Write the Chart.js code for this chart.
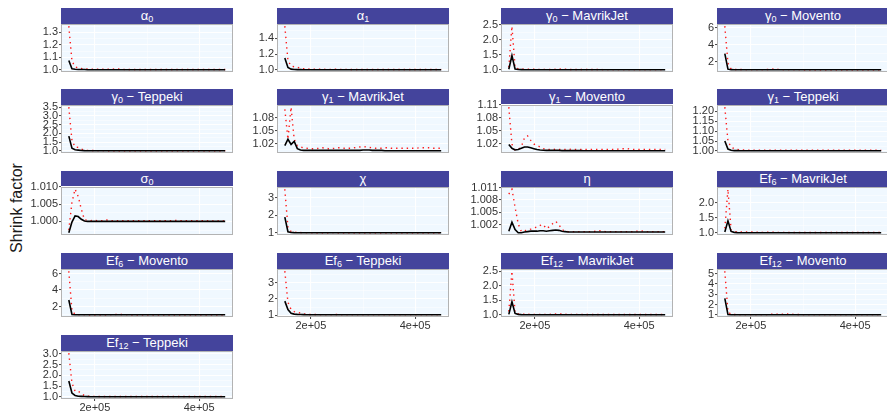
<!DOCTYPE html>
<html>
<head>
<meta charset="utf-8">
<script src="https://cdn.jsdelivr.net/npm/chart.js@4/dist/chart.umd.min.js"></script>
<style>
  html, body { margin: 0; padding: 0; background: #ffffff; }
  body { width: 887px; height: 411px; position: relative; overflow: hidden;
         font-family: "Liberation Sans", Arial, sans-serif; }
  canvas { position: absolute; }
  .strip { position: absolute; height: 16px; background: #44449c; color: #ffffff;
           font-size: 13px; line-height: 16px; text-align: center; white-space: nowrap; overflow: hidden; }
  .strip sub { font-size: 9px; line-height: 0; vertical-align: -2px; }
  #ytitle { position: absolute; width: 140px; height: 20px; line-height: 20px; text-align: center;
            font-size: 16px; color: #1a1a1a; transform: rotate(-90deg); }
</style>
</head>
<body>
<div id="ytitle">Shrink factor</div>
<script>
// Iterations at which the shrink factor was evaluated
const iterations = [
  150000,156000,162000,168000,174000,180000,186000,192000,198000,204000,
  210000,216000,222000,228000,234000,240000,246000,252000,258000,264000,
  270000,276000,282000,288000,294000,300000,306000,312000,318000,324000,
  330000,336000,342000,348000,354000,360000,366000,372000,378000,384000,
  390000,396000,402000,408000,414000,420000,426000,432000,438000,444000,
  450000];
const xTicks = [200000, 400000];
const xTickLabels = ['2e+05', '4e+05'];

// ---- alpha_0
const alpha0Median = [
  1.075,1.008,1.004,1.003,1.002,1.002,1.001,1.001,1.001,1.001,
  1.001,1.001,1.001,1.001,1.001,1.001,1.001,1.001,1.000,1.000,
  1.000,1.000,1.000,1.000,1.000,1.000,1.000,1.000,1.000,1.000,
  1.000,1.000,1.000,1.000,1.000,1.000,1.000,1.000,1.000,1.000,
  1.000,1.000,1.000,1.000,1.000,1.000,1.000,1.000,1.000,1.000,
  1.000];
const alpha0Upper = [
  1.350,1.070,1.025,1.015,1.010,1.008,1.006,1.006,1.005,1.005,
  1.004,1.004,1.004,1.004,1.005,1.008,1.006,1.004,1.003,1.003,
  1.003,1.003,1.003,1.002,1.002,1.002,1.002,1.002,1.002,1.002,
  1.002,1.002,1.002,1.002,1.002,1.002,1.002,1.002,1.002,1.002,
  1.002,1.002,1.002,1.002,1.002,1.002,1.002,1.002,1.002,1.002,
  1.002];
const alpha0Ticks = ['1.0','1.1','1.2','1.3'];

// ---- alpha_1
const alpha1Median = [
  1.150,1.030,1.010,1.005,1.004,1.003,1.002,1.002,1.002,1.002,
  1.001,1.001,1.001,1.001,1.001,1.001,1.001,1.001,1.001,1.001,
  1.001,1.001,1.001,1.001,1.001,1.001,1.001,1.001,1.001,1.001,
  1.001,1.001,1.001,1.001,1.001,1.001,1.001,1.001,1.001,1.001,
  1.001,1.001,1.001,1.001,1.001,1.001,1.001,1.001,1.001,1.001,
  1.001];
const alpha1Upper = [
  1.555,1.120,1.050,1.040,1.034,1.020,1.015,1.012,1.010,1.010,
  1.009,1.008,1.008,1.007,1.007,1.007,1.008,1.007,1.006,1.006,
  1.006,1.006,1.005,1.005,1.005,1.005,1.005,1.005,1.005,1.005,
  1.005,1.005,1.005,1.005,1.005,1.005,1.005,1.005,1.005,1.005,
  1.005,1.005,1.005,1.005,1.005,1.005,1.005,1.005,1.005,1.005,
  1.005];
const alpha1Ticks = ['1.0','1.2','1.4'];

// ---- gamma_0, MavrikJet
const gamma0MavMedian = [
  1.020,1.480,1.030,1.012,1.008,1.006,1.005,1.004,1.004,1.004,
  1.003,1.003,1.003,1.003,1.003,1.004,1.005,1.005,1.004,1.003,
  1.003,1.003,1.003,1.002,1.002,1.002,1.002,1.002,1.002,1.002,
  1.002,1.002,1.002,1.002,1.002,1.002,1.002,1.002,1.002,1.002,
  1.002,1.002,1.002,1.002,1.002,1.002,1.002,1.002,1.002,1.002,
  1.002];
const gamma0MavUpper = [
  1.090,2.460,1.080,1.040,1.030,1.025,1.022,1.020,1.020,1.018,
  1.018,1.016,1.015,1.015,1.016,1.020,1.025,1.030,1.022,1.016,
  1.014,1.013,1.012,1.012,1.012,1.011,1.011,1.011,1.011,1.011,
  1.010,1.010,1.010,1.010,1.010,1.010,1.010,1.010,1.010,1.010,
  1.010,1.010,1.010,1.010,1.010,1.010,1.010,1.010,1.010,1.010,
  1.010];
const gamma0MavTicks = ['1.0','1.5','2.0','2.5'];

// ---- gamma_0, Movento
const gamma0MovMedian = [
  2.930,1.080,1.020,1.010,1.008,1.006,1.005,1.004,1.004,1.004,
  1.004,1.003,1.003,1.003,1.004,1.006,1.006,1.005,1.004,1.003,
  1.003,1.003,1.003,1.003,1.003,1.003,1.003,1.003,1.003,1.003,
  1.002,1.002,1.002,1.002,1.002,1.002,1.002,1.002,1.002,1.002,
  1.002,1.002,1.002,1.002,1.002,1.002,1.002,1.002,1.002,1.002,
  1.002];
const gamma0MovUpper = [
  6.220,1.800,1.100,1.050,1.040,1.035,1.030,1.030,1.028,1.025,
  1.025,1.022,1.022,1.025,1.040,1.080,1.100,1.060,1.030,1.025,
  1.022,1.020,1.020,1.020,1.020,1.018,1.018,1.018,1.018,1.018,
  1.016,1.016,1.016,1.016,1.016,1.016,1.016,1.016,1.016,1.016,
  1.015,1.015,1.015,1.015,1.015,1.015,1.015,1.015,1.015,1.015,
  1.015];
const gamma0MovTicks = ['2','4','6'];

// ---- gamma_0, Teppeki
const gamma0TepMedian = [
  1.840,1.150,1.060,1.040,1.020,1.010,1.006,1.004,1.003,1.003,
  1.002,1.002,1.002,1.002,1.002,1.002,1.002,1.002,1.002,1.002,
  1.002,1.002,1.002,1.002,1.002,1.002,1.002,1.002,1.002,1.002,
  1.001,1.001,1.001,1.001,1.001,1.001,1.001,1.001,1.001,1.001,
  1.001,1.001,1.001,1.001,1.001,1.001,1.001,1.001,1.001,1.001,
  1.001];
const gamma0TepUpper = [
  3.500,1.600,1.220,1.200,1.100,1.040,1.025,1.018,1.015,1.012,
  1.010,1.010,1.009,1.009,1.009,1.008,1.008,1.008,1.008,1.008,
  1.008,1.007,1.007,1.007,1.007,1.007,1.007,1.007,1.007,1.007,
  1.006,1.006,1.006,1.006,1.006,1.006,1.006,1.006,1.006,1.006,
  1.006,1.006,1.006,1.006,1.006,1.006,1.006,1.006,1.006,1.006,
  1.006];
const gamma0TepTicks = ['1.0','1.5','2.0','2.5','3.0','3.5'];

// ---- gamma_1, MavrikJet
const gamma1MavMedian = [
  1.015,1.030,1.018,1.025,1.008,1.005,1.004,1.004,1.004,1.004,
  1.004,1.004,1.004,1.004,1.004,1.004,1.004,1.004,1.004,1.004,
  1.004,1.004,1.004,1.004,1.004,1.005,1.005,1.005,1.004,1.004,
  1.004,1.004,1.003,1.003,1.003,1.003,1.003,1.003,1.003,1.003,
  1.003,1.003,1.003,1.003,1.003,1.003,1.003,1.003,1.003,1.003,
  1.003];
const gamma1MavUpper = [
  1.100,1.030,1.105,1.030,1.015,1.012,1.010,1.009,1.008,1.008,
  1.008,1.009,1.010,1.009,1.008,1.008,1.009,1.010,1.010,1.009,
  1.009,1.009,1.010,1.011,1.012,1.013,1.012,1.011,1.010,1.009,
  1.009,1.009,1.010,1.010,1.009,1.009,1.009,1.009,1.009,1.009,
  1.009,1.009,1.009,1.010,1.010,1.010,1.010,1.009,1.009,1.009,
  1.009];
const gamma1MavTicks = ['1.02','1.05','1.08'];

// ---- gamma_1, Movento
const gamma1MovMedian = [
  1.018,1.009,1.005,1.006,1.009,1.012,1.012,1.010,1.008,1.006,
  1.005,1.0045,1.004,1.004,1.004,1.004,1.004,1.0035,1.0035,1.0035,
  1.0035,1.0035,1.0035,1.0035,1.003,1.003,1.003,1.003,1.003,1.003,
  1.003,1.003,1.003,1.003,1.003,1.003,1.003,1.003,1.003,1.003,
  1.003,1.003,1.003,1.003,1.003,1.003,1.003,1.003,1.003,1.003,
  1.003];
const gamma1MovUpper = [
  1.105,1.018,1.005,1.0065,1.0125,1.033,1.038,1.0275,1.019,1.0155,
  1.012,1.008,1.007,1.006,1.006,1.007,1.006,1.006,1.006,1.006,
  1.007,1.006,1.006,1.006,1.006,1.006,1.006,1.006,1.006,1.006,
  1.006,1.006,1.006,1.006,1.006,1.007,1.008,1.008,1.008,1.007,
  1.006,1.006,1.006,1.006,1.006,1.006,1.006,1.006,1.006,1.006,
  1.006];
const gamma1MovTicks = ['1.02','1.05','1.08','1.11'];

// ---- gamma_1, Teppeki
const gamma1TepMedian = [
  1.050,1.010,1.004,1.002,1.002,1.001,1.001,1.001,1.001,1.001,
  1.001,1.001,1.001,1.001,1.001,1.001,1.001,1.001,1.001,1.001,
  1.001,1.001,1.001,1.001,1.001,1.001,1.001,1.001,1.001,1.001,
  1.001,1.001,1.001,1.001,1.001,1.001,1.001,1.001,1.001,1.001,
  1.001,1.001,1.001,1.001,1.001,1.001,1.001,1.001,1.001,1.001,
  1.001];
const gamma1TepUpper = [
  1.220,1.050,1.020,1.012,1.008,1.006,1.005,1.005,1.004,1.004,
  1.004,1.004,1.004,1.004,1.004,1.004,1.004,1.004,1.004,1.004,
  1.004,1.004,1.004,1.004,1.004,1.004,1.004,1.004,1.004,1.004,
  1.004,1.004,1.004,1.004,1.004,1.004,1.004,1.004,1.004,1.004,
  1.004,1.004,1.004,1.004,1.004,1.004,1.004,1.004,1.004,1.004,
  1.004];
const gamma1TepTicks = ['1.00','1.05','1.10','1.15','1.20'];

// ---- sigma_0
const sigma0Median = [
  0.9967,0.9998,1.0016,1.0014,1.0006,1.0001,1.0000,1.0000,1.0000,1.0000,
  1.0000,1.0000,1.0000,1.0000,1.0000,1.0000,1.0000,1.0000,1.0000,1.0000,
  1.0000,1.0000,1.0000,1.0000,1.0000,1.0000,1.0000,1.0000,1.0000,1.0000,
  1.0000,1.0000,1.0000,1.0000,1.0000,1.0000,1.0000,1.0000,1.0000,1.0000,
  1.0000,1.0000,1.0000,1.0000,1.0000,1.0000,1.0000,1.0000,1.0000,1.0000,
  1.0000];
const sigma0Upper = [
  0.9975,1.0055,1.0093,1.0072,1.0035,1.0005,1.0003,1.0002,1.0003,1.0002,
  1.0002,1.0002,1.0004,1.0002,1.0002,1.0002,1.0002,1.0002,1.0002,1.0002,
  1.0002,1.0002,1.0002,1.0002,1.0002,1.0002,1.0002,1.0002,1.0002,1.0002,
  1.0002,1.0002,1.0002,1.0002,1.0003,1.0002,1.0002,1.0002,1.0002,1.0002,
  1.0002,1.0002,1.0002,1.0002,1.0002,1.0001,1.0001,1.0001,1.0001,1.0001,
  1.0001];
const sigma0Ticks = ['1.000','1.005','1.010'];

// ---- chi
const chiMedian = [
  1.900,1.060,1.020,1.010,1.006,1.004,1.003,1.002,1.002,1.002,
  1.002,1.002,1.002,1.002,1.002,1.002,1.002,1.002,1.002,1.002,
  1.002,1.002,1.002,1.002,1.002,1.002,1.002,1.002,1.002,1.002,
  1.001,1.001,1.001,1.001,1.001,1.001,1.001,1.001,1.001,1.001,
  1.001,1.001,1.001,1.001,1.001,1.001,1.001,1.001,1.001,1.001,
  1.001];
const chiUpper = [
  3.500,1.300,1.080,1.040,1.020,1.015,1.012,1.010,1.010,1.009,
  1.009,1.009,1.009,1.009,1.009,1.010,1.010,1.009,1.009,1.008,
  1.008,1.008,1.008,1.008,1.008,1.008,1.008,1.008,1.008,1.008,
  1.008,1.008,1.008,1.008,1.008,1.008,1.008,1.008,1.008,1.008,
  1.008,1.008,1.008,1.008,1.008,1.008,1.008,1.008,1.008,1.008,
  1.008];
const chiTicks = ['1','2','3'];

// ---- eta
const etaMedian = [
  1.0004,1.0026,1.0008,1.0000,1.0000,1.0002,1.0003,1.0004,1.0004,1.0004,
  1.0005,1.0005,1.0004,1.0005,1.0006,1.0007,1.0006,1.0004,1.0003,1.0002,
  1.0002,1.0002,1.0002,1.0002,1.0002,1.0002,1.0002,1.0002,1.0002,1.0002,
  1.0002,1.0002,1.0002,1.0002,1.0002,1.0002,1.0002,1.0002,1.0002,1.0002,
  1.0002,1.0002,1.0002,1.0002,1.0002,1.0002,1.0002,1.0002,1.0002,1.0002,
  1.0002];
const etaUpper = [
  1.0094,1.0106,1.0062,1.0022,1.0003,1.0005,1.0007,1.0009,1.0012,1.0014,
  1.0018,1.0020,1.0010,1.0015,1.0022,1.0028,1.0020,1.0008,1.0004,1.0003,
  1.0003,1.0003,1.0003,1.0003,1.0003,1.0003,1.0003,1.0003,1.0004,1.0005,
  1.0004,1.0003,1.0003,1.0003,1.0003,1.0003,1.0003,1.0003,1.0003,1.0003,
  1.0003,1.0004,1.0005,1.0004,1.0003,1.0003,1.0003,1.0003,1.0003,1.0003,
  1.0003];
const etaTicks = ['1.002','1.005','1.008','1.011'];

// ---- Ef_6, MavrikJet
const ef6MavMedian = [
  1.030,1.400,1.050,1.020,1.012,1.008,1.006,1.005,1.005,1.005,
  1.005,1.005,1.005,1.005,1.005,1.006,1.006,1.005,1.005,1.005,
  1.004,1.004,1.004,1.004,1.004,1.004,1.004,1.004,1.004,1.004,
  1.004,1.004,1.004,1.004,1.004,1.004,1.004,1.004,1.004,1.004,
  1.004,1.004,1.004,1.004,1.004,1.004,1.004,1.004,1.004,1.004,
  1.004];
const ef6MavUpper = [
  1.150,2.450,1.100,1.050,1.035,1.030,1.028,1.030,1.040,1.030,
  1.025,1.022,1.020,1.020,1.022,1.025,1.020,1.018,1.018,1.018,
  1.016,1.016,1.016,1.016,1.016,1.015,1.015,1.015,1.015,1.015,
  1.015,1.015,1.015,1.015,1.015,1.015,1.015,1.015,1.015,1.015,
  1.015,1.015,1.015,1.015,1.015,1.015,1.015,1.015,1.015,1.015,
  1.015];
const ef6MavTicks = ['1.0','1.5','2.0'];

// ---- Ef_6, Movento
const ef6MovMedian = [
  2.800,1.050,1.020,1.010,1.008,1.006,1.005,1.004,1.004,1.004,
  1.004,1.004,1.004,1.004,1.004,1.005,1.005,1.004,1.004,1.004,
  1.004,1.004,1.004,1.004,1.004,1.004,1.004,1.004,1.004,1.004,
  1.003,1.003,1.003,1.003,1.003,1.003,1.003,1.003,1.003,1.003,
  1.003,1.003,1.003,1.003,1.003,1.003,1.003,1.003,1.003,1.003,
  1.003];
const ef6MovUpper = [
  6.280,1.500,1.050,1.030,1.025,1.022,1.020,1.020,1.020,1.020,
  1.020,1.020,1.020,1.022,1.030,1.050,1.060,1.040,1.025,1.020,
  1.018,1.018,1.018,1.018,1.018,1.018,1.018,1.018,1.018,1.018,
  1.018,1.018,1.018,1.018,1.018,1.018,1.018,1.018,1.018,1.018,
  1.018,1.018,1.018,1.018,1.018,1.018,1.018,1.018,1.018,1.018,
  1.018];
const ef6MovTicks = ['2','4','6'];

// ---- Ef_6, Teppeki
const ef6TepMedian = [
  1.870,1.350,1.120,1.070,1.050,1.040,1.035,1.030,1.030,1.028,
  1.027,1.026,1.026,1.025,1.025,1.025,1.025,1.025,1.025,1.025,
  1.025,1.025,1.025,1.025,1.025,1.025,1.025,1.025,1.025,1.025,
  1.025,1.025,1.025,1.025,1.025,1.025,1.025,1.025,1.025,1.025,
  1.025,1.025,1.025,1.025,1.025,1.025,1.025,1.025,1.025,1.025,
  1.025];
const ef6TepUpper = [
  3.720,1.800,1.350,1.220,1.170,1.140,1.080,1.050,1.045,1.042,
  1.040,1.040,1.040,1.040,1.040,1.040,1.042,1.040,1.040,1.040,
  1.039,1.039,1.039,1.039,1.039,1.038,1.038,1.038,1.038,1.038,
  1.038,1.038,1.038,1.038,1.038,1.038,1.038,1.038,1.038,1.038,
  1.038,1.038,1.038,1.038,1.038,1.038,1.038,1.038,1.038,1.038,
  1.038];
const ef6TepTicks = ['1','2','3'];

// ---- Ef_12, MavrikJet
const ef12MavMedian = [
  1.020,1.450,1.050,1.020,1.012,1.008,1.006,1.005,1.005,1.005,
  1.005,1.005,1.005,1.005,1.005,1.006,1.006,1.005,1.005,1.005,
  1.004,1.004,1.004,1.004,1.004,1.004,1.004,1.004,1.004,1.004,
  1.004,1.004,1.004,1.004,1.004,1.004,1.004,1.004,1.004,1.004,
  1.004,1.004,1.004,1.004,1.004,1.004,1.004,1.004,1.004,1.004,
  1.004];
const ef12MavUpper = [
  1.120,2.500,1.080,1.040,1.030,1.025,1.022,1.020,1.020,1.020,
  1.020,1.020,1.020,1.020,1.022,1.030,1.032,1.030,1.022,1.020,
  1.018,1.018,1.018,1.018,1.016,1.016,1.016,1.016,1.016,1.016,
  1.015,1.015,1.015,1.015,1.015,1.015,1.015,1.015,1.015,1.015,
  1.015,1.015,1.015,1.015,1.015,1.015,1.015,1.015,1.015,1.015,
  1.015];
const ef12MavTicks = ['1.0','1.5','2.0','2.5'];

// ---- Ef_12, Movento
const ef12MovMedian = [
  2.600,1.030,1.010,1.006,1.005,1.004,1.004,1.004,1.004,1.004,
  1.004,1.004,1.004,1.004,1.004,1.005,1.006,1.006,1.005,1.005,
  1.005,1.005,1.004,1.004,1.004,1.003,1.003,1.003,1.003,1.003,
  1.003,1.003,1.003,1.003,1.003,1.003,1.003,1.003,1.003,1.003,
  1.003,1.003,1.003,1.003,1.003,1.003,1.003,1.003,1.003,1.003,
  1.003];
const ef12MovUpper = [
  5.250,1.300,1.050,1.030,1.025,1.022,1.020,1.020,1.020,1.020,
  1.020,1.020,1.020,1.022,1.030,1.060,1.080,1.070,1.060,1.070,
  1.080,1.060,1.050,1.040,1.030,1.025,1.022,1.020,1.020,1.020,
  1.020,1.020,1.020,1.020,1.020,1.020,1.020,1.020,1.020,1.020,
  1.020,1.020,1.020,1.020,1.020,1.020,1.020,1.020,1.020,1.020,
  1.020];
const ef12MovTicks = ['1','2','3','4','5'];

// ---- Ef_12, Teppeki
const ef12TepMedian = [
  1.740,1.180,1.070,1.030,1.025,1.020,1.015,1.010,1.008,1.006,
  1.006,1.006,1.005,1.005,1.005,1.005,1.005,1.005,1.005,1.005,
  1.005,1.005,1.005,1.005,1.005,1.005,1.005,1.005,1.005,1.005,
  1.005,1.005,1.005,1.005,1.005,1.005,1.005,1.005,1.005,1.005,
  1.005,1.005,1.005,1.005,1.005,1.005,1.005,1.005,1.005,1.005,
  1.005];
const ef12TepUpper = [
  3.030,1.650,1.270,1.270,1.150,1.060,1.040,1.030,1.025,1.022,
  1.022,1.021,1.021,1.020,1.020,1.020,1.020,1.020,1.020,1.020,
  1.020,1.020,1.020,1.020,1.020,1.020,1.020,1.020,1.020,1.020,
  1.020,1.020,1.020,1.020,1.020,1.020,1.020,1.020,1.020,1.020,
  1.020,1.020,1.020,1.020,1.020,1.020,1.020,1.020,1.020,1.020,
  1.020];
const ef12TepTicks = ['1.0','1.5','2.0','2.5','3.0'];

// Facet order (left to right, top to bottom)
const panels = [
  { title: 'α<sub>0</sub>', median: alpha0Median, upper: alpha0Upper, ticks: alpha0Ticks },
  { title: 'α<sub>1</sub>', median: alpha1Median, upper: alpha1Upper, ticks: alpha1Ticks },
  { title: 'γ<sub>0</sub> − MavrikJet', median: gamma0MavMedian, upper: gamma0MavUpper, ticks: gamma0MavTicks },
  { title: 'γ<sub>0</sub> − Movento', median: gamma0MovMedian, upper: gamma0MovUpper, ticks: gamma0MovTicks },
  { title: 'γ<sub>0</sub> − Teppeki', median: gamma0TepMedian, upper: gamma0TepUpper, ticks: gamma0TepTicks },
  { title: 'γ<sub>1</sub> − MavrikJet', median: gamma1MavMedian, upper: gamma1MavUpper, ticks: gamma1MavTicks },
  { title: 'γ<sub>1</sub> − Movento', median: gamma1MovMedian, upper: gamma1MovUpper, ticks: gamma1MovTicks },
  { title: 'γ<sub>1</sub> − Teppeki', median: gamma1TepMedian, upper: gamma1TepUpper, ticks: gamma1TepTicks },
  { title: 'σ<sub>0</sub>', median: sigma0Median, upper: sigma0Upper, ticks: sigma0Ticks },
  { title: 'χ', median: chiMedian, upper: chiUpper, ticks: chiTicks },
  { title: 'η', median: etaMedian, upper: etaUpper, ticks: etaTicks },
  { title: 'Ef<sub>6</sub> − MavrikJet', median: ef6MavMedian, upper: ef6MavUpper, ticks: ef6MavTicks },
  { title: 'Ef<sub>6</sub> − Movento', median: ef6MovMedian, upper: ef6MovUpper, ticks: ef6MovTicks },
  { title: 'Ef<sub>6</sub> − Teppeki', median: ef6TepMedian, upper: ef6TepUpper, ticks: ef6TepTicks },
  { title: 'Ef<sub>12</sub> − MavrikJet', median: ef12MavMedian, upper: ef12MavUpper, ticks: ef12MavTicks },
  { title: 'Ef<sub>12</sub> − Movento', median: ef12MovMedian, upper: ef12MovUpper, ticks: ef12MovTicks },
  { title: 'Ef<sub>12</sub> − Teppeki', median: ef12TepMedian, upper: ef12TepUpper, ticks: ef12TepTicks }
];

// ---- layout of the facet grid
const colLeft = [61, 277, 501, 717];
const rowTop = [24, 105, 187, 269, 351];
const plotW = 172, plotH = 48, stripH = 16;
const axisW = 56;              // room for y tick labels
const padTop = 10, padRight = 4;
const xRange = [135000, 465000];
const tickFont = { family: '"Liberation Sans", Arial, sans-serif', size: 11 };
const tickColour = '#333333';

// panel background + border
const panelFrame = {
  id: 'panelFrame',
  beforeDraw(chart) {
    const { ctx, chartArea: a } = chart;
    ctx.save();
    ctx.fillStyle = '#f0f8ff';
    ctx.fillRect(a.left, a.top, a.right - a.left, a.bottom - a.top);
    ctx.restore();
  },
  afterDraw(chart) {
    const { ctx, chartArea: a } = chart;
    ctx.save();
    ctx.strokeStyle = '#b3b3b3';
    ctx.lineWidth = 1;
    ctx.strokeRect(a.left + 0.5, a.top + 0.5, a.right - a.left - 1, a.bottom - a.top - 1);
    ctx.restore();
  }
};

function buildTicks(majors, lo, hi) {
  const out = majors.map(m => ({ value: m, text: null }));
  if (majors.length > 1) {
    const step = majors[1] - majors[0];
    const cand = [majors[0] - step / 2];
    for (let i = 0; i < majors.length - 1; i++) cand.push((majors[i] + majors[i + 1]) / 2);
    cand.push(majors[majors.length - 1] + step / 2);
    cand.forEach(v => { if (v > lo && v < hi) out.push({ value: v, minor: true }); });
  }
  return out;
}

const gridWidth = ctx => (ctx.tick && ctx.tick.minor) ? 0.5 : 1.1;
const tickMarkColour = ctx => (ctx.tick && ctx.tick.minor) ? 'rgba(0,0,0,0)' : '#444444';

panels.forEach((p, i) => {
  const row = Math.floor(i / 4), col = i % 4;
  const left = colLeft[col], top = rowTop[row];
  const showX = (i === 16) || (i >= 13 && i <= 15);
  const xAxisH = showX ? 16 : 0;
  const padBottom = showX ? 2 : 10;

  // strip label
  const strip = document.createElement('div');
  strip.className = 'strip';
  strip.style.left = left + 'px';
  strip.style.top = (top - stripH) + 'px';
  strip.style.width = plotW + 'px';
  strip.innerHTML = p.title;
  document.body.appendChild(strip);

  // canvas sized so the plotting area lands on the grid cell
  const canvas = document.createElement('canvas');
  const cw = axisW + plotW + padRight;
  const ch = padTop + plotH + xAxisH + padBottom;
  canvas.width = cw; canvas.height = ch;
  canvas.style.width = cw + 'px'; canvas.style.height = ch + 'px';
  canvas.style.left = (left - axisW) + 'px';
  canvas.style.top = (top - padTop) + 'px';
  document.body.appendChild(canvas);

  const all = p.median.concat(p.upper);
  const lo0 = Math.min(...all), hi0 = Math.max(...all);
  const pad = (hi0 - lo0) * 0.05;
  const yMin = lo0 - pad, yMax = hi0 + pad;
  const majorVals = p.ticks.map(Number);
  const yTickObjs = buildTicks(majorVals, yMin, yMax);
  yTickObjs.forEach(t => { if (!t.minor) t.text = p.ticks[majorVals.indexOf(t.value)]; });
  const xTickObjs = buildTicks(xTicks, xRange[0], xRange[1]);
  xTickObjs.forEach(t => { if (!t.minor) t.text = xTickLabels[xTicks.indexOf(t.value)]; });

  new Chart(canvas, {
    type: 'line',
    data: {
      datasets: [
        {
          data: iterations.map((x, k) => ({ x, y: p.median[k] })),
          borderColor: '#000000', borderWidth: 1.6,
          pointRadius: 0, tension: 0, fill: false
        },
        {
          data: iterations.map((x, k) => ({ x, y: p.upper[k] })),
          borderColor: '#ff1a1a', borderWidth: 1.4, borderDash: [1.4, 3.9],
          pointRadius: 0, tension: 0, fill: false
        }
      ]
    },
    options: {
      responsive: false, animation: false, devicePixelRatio: 1,
      events: [],
      layout: { padding: { left: 0, right: padRight, top: padTop, bottom: padBottom } },
      plugins: { legend: { display: false }, tooltip: { enabled: false }, title: { display: false } },
      scales: {
        x: {
          type: 'linear', min: xRange[0], max: xRange[1],
          afterBuildTicks: s => { s.ticks = xTickObjs.map(t => Object.assign({}, t)); },
          afterFit: s => { s.height = xAxisH; },
          border: { display: false },
          grid: { color: '#ffffff', lineWidth: gridWidth, drawTicks: showX, tickLength: 2,
                  tickColor: tickMarkColour, tickWidth: 1 },
          ticks: {
            display: showX, autoSkip: false, maxRotation: 0, padding: 0,
            font: tickFont, color: tickColour,
            callback: (v, k, ts) => ts[k].minor ? '' : ts[k].text
          }
        },
        y: {
          type: 'linear', min: yMin, max: yMax,
          afterBuildTicks: s => { s.ticks = yTickObjs.map(t => Object.assign({}, t)); },
          afterFit: s => { s.width = axisW; },
          border: { display: false },
          grid: { color: '#ffffff', lineWidth: gridWidth, drawTicks: true, tickLength: 2,
                  tickColor: tickMarkColour, tickWidth: 1 },
          ticks: {
            autoSkip: false, padding: 1, font: tickFont, color: tickColour,
            callback: (v, k, ts) => ts[k].minor ? '' : ts[k].text
          }
        }
      }
    },
    plugins: [panelFrame]
  });
});

// y-axis title placement
const yt = document.getElementById('ytitle');
yt.style.left = (17 - 70) + 'px';
yt.style.top = (208 - 10) + 'px';
</script>
</body>
</html>
